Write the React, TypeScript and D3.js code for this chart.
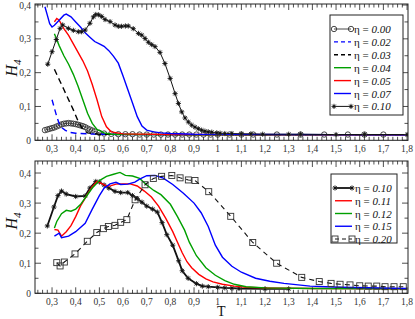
import React from "react";
import * as d3 from "d3";

type Pt = [number, number];

// ---- top panel data (T, H4) ----
const top000: Pt[] = [
  [0.27, 0.03], [0.28, 0.032], [0.29, 0.034], [0.3, 0.036], [0.31, 0.038], [0.32, 0.041],
  [0.33, 0.044], [0.34, 0.047], [0.35, 0.049], [0.36, 0.05], [0.37, 0.051], [0.38, 0.05],
  [0.39, 0.049], [0.4, 0.048], [0.41, 0.046], [0.42, 0.044], [0.43, 0.042], [0.44, 0.039],
  [0.45, 0.035], [0.46, 0.032], [0.47, 0.029], [0.48, 0.026], [0.5, 0.022], [0.52, 0.02],
  [0.55, 0.019], [0.58, 0.018], [0.61, 0.018], [0.64, 0.018], [0.67, 0.017], [0.7, 0.017],
  [0.73, 0.017], [0.76, 0.017], [0.79, 0.017], [0.82, 0.017], [0.85, 0.017], [0.88, 0.017],
  [0.91, 0.017], [0.94, 0.017], [0.97, 0.017], [1.0, 0.017], [1.05, 0.017], [1.1, 0.017],
  [1.15, 0.017], [1.25, 0.017], [1.35, 0.017], [1.45, 0.017], [1.55, 0.017], [1.62, 0.017],
  [1.7, 0.017],
];
const top002: Pt[] = [
  [0.3, 0.12], [0.31, 0.095], [0.32, 0.07], [0.33, 0.05], [0.34, 0.038], [0.355, 0.03],
  [0.37, 0.024], [0.4, 0.021], [0.45, 0.019], [0.5, 0.018], [0.6, 0.017], [1.0, 0.016], [1.8, 0.016],
];
const top003: Pt[] = [
  [0.31, 0.21], [0.33, 0.18], [0.35, 0.15], [0.37, 0.12], [0.39, 0.09], [0.41, 0.057],
  [0.43, 0.032], [0.45, 0.022], [0.5, 0.018], [0.6, 0.017], [1.0, 0.016], [1.8, 0.016],
];
const top004: Pt[] = [
  [0.31, 0.315], [0.33, 0.28], [0.35, 0.25], [0.37, 0.225], [0.39, 0.195], [0.41, 0.16],
  [0.43, 0.12], [0.45, 0.08], [0.47, 0.05], [0.49, 0.032], [0.52, 0.022], [0.55, 0.018],
  [0.7, 0.017], [1.0, 0.016], [1.8, 0.016],
];
const top005: Pt[] = [
  [0.31, 0.35], [0.32, 0.36], [0.33, 0.355], [0.35, 0.33], [0.37, 0.31], [0.39, 0.285],
  [0.41, 0.26], [0.43, 0.235], [0.45, 0.205], [0.47, 0.165], [0.49, 0.12], [0.51, 0.07],
  [0.53, 0.04], [0.55, 0.025], [0.6, 0.019], [0.8, 0.017], [1.8, 0.016],
];
const top007: Pt[] = [
  [0.27, 0.395], [0.28, 0.37], [0.29, 0.345], [0.3, 0.335], [0.31, 0.34], [0.33, 0.355],
  [0.35, 0.37], [0.36, 0.373], [0.38, 0.365], [0.4, 0.35], [0.42, 0.335], [0.44, 0.318],
  [0.46, 0.305], [0.48, 0.292], [0.5, 0.285], [0.52, 0.278], [0.54, 0.265], [0.56, 0.248],
  [0.58, 0.228], [0.6, 0.19], [0.62, 0.15], [0.64, 0.11], [0.66, 0.07], [0.68, 0.042],
  [0.7, 0.03], [0.73, 0.025], [0.76, 0.022], [0.8, 0.02], [0.9, 0.018], [1.8, 0.016],
];
const top010: Pt[] = [
  [0.282, 0.225], [0.3, 0.262], [0.318, 0.298], [0.334, 0.331], [0.345, 0.341], [0.369, 0.331],
  [0.39, 0.325], [0.411, 0.321], [0.425, 0.321], [0.44, 0.326], [0.46, 0.346], [0.475, 0.365],
  [0.485, 0.372], [0.497, 0.371], [0.51, 0.366], [0.524, 0.357], [0.545, 0.351], [0.566, 0.341],
  [0.58, 0.337], [0.594, 0.337], [0.61, 0.338], [0.622, 0.338], [0.643, 0.33], [0.665, 0.316],
  [0.679, 0.311], [0.693, 0.301], [0.707, 0.29], [0.721, 0.283], [0.735, 0.277], [0.756, 0.26],
  [0.777, 0.227], [0.799, 0.183], [0.82, 0.138], [0.834, 0.109], [0.848, 0.084], [0.862, 0.066],
  [0.876, 0.054], [0.89, 0.045], [0.904, 0.039], [0.918, 0.034], [0.932, 0.03], [0.946, 0.027],
  [0.96, 0.025], [0.975, 0.024], [0.996, 0.022], [1.01, 0.021], [1.03, 0.02], [1.06, 0.02],
  [1.1, 0.019], [1.14, 0.019], [1.19, 0.018], [1.3, 0.018], [1.35, 0.018], [1.5, 0.017],
  [1.62, 0.017], [1.8, 0.017],
];

// ---- bottom panel data ----
const bot010: Pt[] = [
  [0.28, 0.224], [0.308, 0.287], [0.325, 0.325], [0.34, 0.34], [0.36, 0.33], [0.4, 0.322],
  [0.44, 0.324], [0.46, 0.35], [0.485, 0.372], [0.5, 0.37], [0.52, 0.36], [0.54, 0.35],
  [0.566, 0.339], [0.59, 0.335], [0.62, 0.335], [0.64, 0.325], [0.66, 0.315], [0.68, 0.303],
  [0.7, 0.29], [0.725, 0.28], [0.745, 0.27], [0.765, 0.235], [0.785, 0.195], [0.81, 0.16],
  [0.835, 0.108], [0.85, 0.075], [0.875, 0.05], [0.91, 0.032], [0.935, 0.024], [0.96, 0.022],
  [1.0, 0.02], [1.03, 0.018], [1.06, 0.017], [1.09, 0.016], [1.2, 0.015], [1.3, 0.015],
];
const bot011: Pt[] = [
  [0.31, 0.212], [0.325, 0.21], [0.34, 0.19], [0.36, 0.205], [0.38, 0.225], [0.4, 0.255],
  [0.42, 0.29], [0.45, 0.33], [0.47, 0.355], [0.49, 0.372], [0.51, 0.365], [0.53, 0.357],
  [0.55, 0.358], [0.57, 0.363], [0.6, 0.364], [0.63, 0.364], [0.66, 0.357], [0.69, 0.34],
  [0.72, 0.32], [0.75, 0.29], [0.78, 0.25], [0.81, 0.205], [0.83, 0.17], [0.85, 0.135],
  [0.87, 0.105], [0.89, 0.085], [0.92, 0.063], [0.95, 0.048], [0.98, 0.038], [1.02, 0.03],
  [1.07, 0.024], [1.12, 0.02], [1.2, 0.018], [1.4, 0.016], [1.8, 0.015],
];
const bot012: Pt[] = [
  [0.31, 0.217], [0.32, 0.239], [0.34, 0.265], [0.36, 0.276], [0.38, 0.273], [0.4, 0.28],
  [0.42, 0.295], [0.44, 0.317], [0.47, 0.35], [0.5, 0.375], [0.53, 0.389], [0.56, 0.396],
  [0.587, 0.402], [0.61, 0.392], [0.64, 0.39], [0.67, 0.382], [0.7, 0.36], [0.73, 0.342],
  [0.76, 0.328], [0.8, 0.296], [0.83, 0.255], [0.86, 0.21], [0.88, 0.17], [0.91, 0.125],
  [0.95, 0.085], [0.99, 0.06], [1.03, 0.042], [1.07, 0.03], [1.12, 0.022], [1.2, 0.018],
  [1.4, 0.016], [1.8, 0.015],
];
const bot015: Pt[] = [
  [0.31, 0.19], [0.33, 0.2], [0.34, 0.185], [0.37, 0.19], [0.4, 0.205], [0.44, 0.233],
  [0.47, 0.28], [0.5, 0.325], [0.52, 0.35], [0.545, 0.364], [0.57, 0.369], [0.59, 0.362],
  [0.62, 0.363], [0.65, 0.37], [0.67, 0.38], [0.7, 0.391], [0.735, 0.392], [0.77, 0.383],
  [0.81, 0.362], [0.855, 0.333], [0.9, 0.3], [0.93, 0.268], [0.96, 0.222], [0.99, 0.16],
  [1.02, 0.12], [1.06, 0.09], [1.1, 0.07], [1.16, 0.05], [1.22, 0.04], [1.28, 0.033],
  [1.39, 0.024], [1.52, 0.02], [1.8, 0.016],
];
const bot020: Pt[] = [
  [0.32, 0.102], [0.334, 0.091], [0.352, 0.104], [0.397, 0.131], [0.449, 0.173], [0.489, 0.202],
  [0.517, 0.215], [0.538, 0.222], [0.566, 0.226], [0.59, 0.236], [0.616, 0.245], [0.651, 0.311],
  [0.693, 0.361], [0.728, 0.382], [0.763, 0.389], [0.806, 0.392], [0.841, 0.384], [0.876, 0.377],
  [0.904, 0.375], [0.962, 0.338], [1.055, 0.256], [1.148, 0.169], [1.249, 0.1], [1.355, 0.053],
  [1.429, 0.039], [1.479, 0.033], [1.517, 0.03], [1.559, 0.028], [1.6, 0.025], [1.636, 0.024],
  [1.672, 0.024], [1.707, 0.022], [1.745, 0.022], [1.784, 0.022],
];

const xTickValues = d3.range(3, 19).map((i) => i / 10);
const xTickLabels = ["0,3", "0,4", "0,5", "0,6", "0,7", "0,8", "0,9", "1", "1,1", "1,2", "1,3", "1,4", "1,5", "1,6", "1,7", "1,8"];
const yTickValues = [0, 0.1, 0.2, 0.3, 0.4];
const yTickLabels = ["0", "0,1", "0,2", "0,3", "0,4"];

const RED = "#ff0000";
const GREEN = "#00a000";
const BLUE = "#0000ff";
const FONT = "Liberation Serif, Times New Roman, serif";

type Marker = "circle" | "star" | "square" | null;
interface Series {
  data: Pt[];
  color: string;
  width: number;
  dash?: string;
  marker: Marker;
  eta: string;
}

const topSeries: Series[] = [
  { data: top000, color: "#333", width: 0.9, marker: "circle", eta: "0.00" },
  { data: top002, color: BLUE, width: 1.4, dash: "6,4", marker: null, eta: "0.02" },
  { data: top003, color: "#000", width: 1.4, dash: "6,4", marker: null, eta: "0.03" },
  { data: top004, color: GREEN, width: 1.4, marker: null, eta: "0.04" },
  { data: top005, color: RED, width: 1.4, marker: null, eta: "0.05" },
  { data: top007, color: BLUE, width: 1.4, marker: null, eta: "0.07" },
  { data: top010, color: "#111", width: 1, marker: "star", eta: "0.10" },
];
const botSeries: Series[] = [
  { data: bot010, color: "#111", width: 1.8, marker: "star", eta: "0.10" },
  { data: bot011, color: RED, width: 1.4, marker: null, eta: "0.11" },
  { data: bot012, color: GREEN, width: 1.4, marker: null, eta: "0.12" },
  { data: bot015, color: BLUE, width: 1.4, marker: null, eta: "0.15" },
  { data: bot020, color: "#111", width: 1.1, dash: "5,4", marker: "square", eta: "0.20" },
];

const x = d3.scaleLinear().domain([0.228, 1.804]).range([35, 408]);

const MarkerShape: React.FC<{ kind: Marker; cx: number; cy: number }> = ({ kind, cx, cy }) => {
  if (kind === "circle")
    return <circle cx={cx} cy={cy} r={2.7} fill="none" stroke="#333" strokeWidth={0.9} />;
  if (kind === "square")
    return <rect x={cx - 3} y={cy - 3} width={6} height={6} fill="none" stroke="#333" strokeWidth={0.9} />;
  if (kind === "star") {
    const p = d3.path();
    const r = 2.6;
    [0, 45, 90, 135].forEach((a) => {
      const dx = r * Math.cos((a * Math.PI) / 180);
      const dy = r * Math.sin((a * Math.PI) / 180);
      p.moveTo(cx - dx, cy - dy);
      p.lineTo(cx + dx, cy + dy);
    });
    return (
      <g>
        <path d={p.toString()} stroke="#333" strokeWidth={1} />
        <circle cx={cx} cy={cy} r={1.2} fill="#111" />
      </g>
    );
  }
  return null;
};

interface PanelProps {
  id: string;
  y: d3.ScaleLinear<number, number>;
  series: Series[];
  legend: { x: number; y: number; w: number; h: number; step: number };
  labelY: number;
}

const Panel: React.FC<PanelProps> = ({ id, y, series, legend, labelY }) => {
  const [x0, x1] = x.range();
  const [yb, yt] = y.range();
  const line = d3
    .line<Pt>()
    .x((d) => x(d[0]))
    .y((d) => y(d[1]));
  const minorX = d3.range(12, 91).map((i) => i / 50).filter((v) => Math.round(v * 50) % 5 !== 0);
  const minorY = [0.05, 0.15, 0.25, 0.35];
  return (
    <g>
      <defs>
        <clipPath id={id}>
          <rect x={x0} y={yt} width={x1 - x0} height={yb - yt} />
        </clipPath>
      </defs>
      <g clipPath={`url(#${id})`}>
        {series.map((s, i) => (
          <g key={i}>
            <path d={line(s.data) || ""} fill="none" stroke={s.color} strokeWidth={s.width} strokeDasharray={s.dash} />
            {s.marker && s.data.map((d, j) => <MarkerShape key={j} kind={s.marker} cx={x(d[0])} cy={y(d[1])} />)}
          </g>
        ))}
      </g>
      {/* ticks */}
      <g stroke="#222" strokeWidth={0.8}>
        {xTickValues.map((v) => (
          <g key={v}>
            <line x1={x(v)} x2={x(v)} y1={yb} y2={yb - 6} />
            <line x1={x(v)} x2={x(v)} y1={yt} y2={yt + 6} />
          </g>
        ))}
        {minorX.map((v) => (
          <g key={v}>
            <line x1={x(v)} x2={x(v)} y1={yb} y2={yb - 3.5} />
            <line x1={x(v)} x2={x(v)} y1={yt} y2={yt + 3.5} />
          </g>
        ))}
        {yTickValues.map((v) => (
          <g key={v}>
            <line x1={x0} x2={x0 + 6} y1={y(v)} y2={y(v)} />
            <line x1={x1} x2={x1 - 6} y1={y(v)} y2={y(v)} />
          </g>
        ))}
        {minorY.map((v) => (
          <g key={v}>
            <line x1={x0} x2={x0 + 3.5} y1={y(v)} y2={y(v)} />
            <line x1={x1} x2={x1 - 3.5} y1={y(v)} y2={y(v)} />
          </g>
        ))}
      </g>
      <rect x={x0} y={yt} width={x1 - x0} height={yb - yt} fill="none" stroke="#222" strokeWidth={1} />
      <g fontFamily={FONT} fontSize={9.5} fill="#333">
        {xTickValues.map((v, i) => (
          <text key={v} x={x(v)} y={yb + 11.5} textAnchor="middle">
            {xTickLabels[i]}
          </text>
        ))}
        {yTickValues.map((v, i) => (
          <text key={v} x={31} y={y(v) + 3.5} textAnchor="end">
            {yTickLabels[i]}
          </text>
        ))}
      </g>
      <text
        transform={`translate(17,${labelY}) rotate(-90)`}
        textAnchor="middle"
        fontFamily={FONT}
        fontSize={16}
        fontStyle="italic"
        fill="#111"
      >
        H<tspan fontSize={11} dy={4}>4</tspan>
      </text>
      {/* legend */}
      <rect x={legend.x} y={legend.y} width={legend.w} height={legend.h} fill="#fff" stroke="#222" strokeWidth={1} />
      {series.map((s, i) => {
        const ly = legend.y + 14 + i * legend.step;
        const lx0 = legend.x + 4;
        const lx1 = legend.x + 21;
        return (
          <g key={i}>
            <line x1={lx0} x2={lx1} y1={ly} y2={ly} stroke={s.color} strokeWidth={s.width} strokeDasharray={s.dash ? "4,3" : undefined} />
            {s.marker && <MarkerShape kind={s.marker} cx={lx0} cy={ly} />}
            {s.marker && <MarkerShape kind={s.marker} cx={lx1} cy={ly} />}
            <text x={legend.x + 24} y={ly + 4} fontFamily={FONT} fontSize={11} fill="#111">
              η = <tspan fontStyle="italic">{s.eta}</tspan>
            </text>
          </g>
        );
      })}
    </g>
  );
};

const App: React.FC = () => {
  const yTop = d3.scaleLinear().domain([0, 0.403]).range([140.3, 4]);
  const yBot = d3.scaleLinear().domain([0, 0.44]).range([293.3, 161]);
  return (
    <svg width={415} height={319} style={{ position: "absolute", left: 0, top: 0, background: "#fff" }}>
      <Panel id="clipTop" y={yTop} series={topSeries} legend={{ x: 330, y: 15, w: 73, h: 100, step: 12.9 }} labelY={68} />
      <Panel id="clipBot" y={yBot} series={botSeries} legend={{ x: 331, y: 174, w: 66, h: 69, step: 12.75 }} labelY={221} />
      <text x={x(1.015)} y={316} textAnchor="middle" fontFamily={FONT} fontSize={14} fill="#111">
        T
      </text>
    </svg>
  );
};

export default App;
